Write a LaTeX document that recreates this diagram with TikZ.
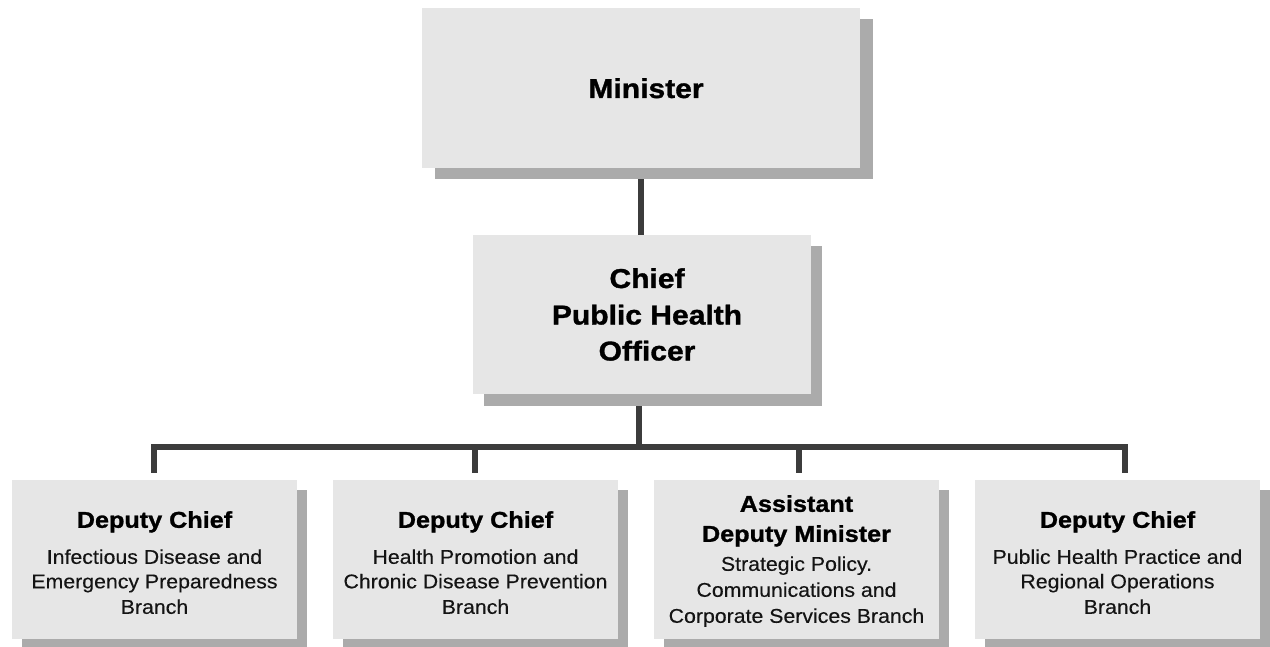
\documentclass[tikz,border=0pt]{standalone}
\usepackage{fontspec}
\setmainfont{Liberation Sans}
\newfontfamily\headfont[FakeStretch=1.1,FakeBold=1.2]{Liberation Sans}
\newfontfamily\bodyfont[FakeStretch=1.07,FakeBold=0.3]{Liberation Sans}
\usetikzlibrary{shadows}
\definecolor{boxfill}{HTML}{E6E6E6}
\definecolor{shadefill}{HTML}{ABABAB}
\definecolor{linkcol}{HTML}{3C3C3C}
\pgfdeclarelayer{bg}
\pgfsetlayers{bg,main}

\begin{document}
\begin{tikzpicture}[x=1pt,y=-1pt,
  orgbox/.style={fill=boxfill, inner sep=0pt, minimum height=159pt},
  bigshadow/.style={drop shadow={shadow xshift=13pt, shadow yshift=-11pt, fill=shadefill, opacity=1}},
  midshadow/.style={drop shadow={shadow xshift=11pt, shadow yshift=-11.5pt, fill=shadefill, opacity=1}},
  smallshadow/.style={drop shadow={shadow xshift=10pt, shadow yshift=-10pt, fill=shadefill, opacity=1}},
  unitbox/.style={orgbox, smallshadow, minimum width=285pt},
  link/.style={draw=linkcol, line width=5.5pt, line join=miter},
  toptitle/.style={anchor=base, inner sep=0pt, font=\headfont\bfseries\fontsize{27.3}{30}\selectfont},
  hd/.style={anchor=base, inner sep=0pt, font=\headfont\bfseries\fontsize{22.9}{26}\selectfont},
  bd/.style={anchor=base, inner sep=0pt, font=\bodyfont\fontsize{19.9}{24}\selectfont, text=black!92}]

\useasboundingbox (0,0) rectangle (1270,647);

% executive boxes
\node[orgbox, bigshadow, minimum width=438pt, minimum height=160pt] (min) at (641,88) {};
\node[orgbox, midshadow, minimum width=338pt] (cpho) at (642,314.5) {};

\node[toptitle] (mint) at ([xshift=5pt,yshift=-10pt]min.center) {Minister};
\node[toptitle] (cpho1) at ([xshift=5pt]cpho.north |- 0,288) {Chief};
\node[toptitle] (cpho2) at ([xshift=5pt]cpho.north |- 0,324.5) {Public Health};
\node[toptitle] (cpho3) at ([xshift=5pt]cpho.north |- 0,360.5) {Officer};

% branch boxes
\node[unitbox] (b1) at (154.5,559.5) {};
\node[unitbox] (b2) at (475.5,559.5) {};
\node[unitbox] (b3) at (796.5,559.5) {};
\node[unitbox] (b4) at (1117.5,559.5) {};

\node[hd] (b1h) at ([yshift=-48pt]b1.north) {Deputy Chief};
\node[bd] (b1a) at ([yshift=-84pt]b1.north) {Infectious Disease and};
\node[bd] (b1b) at ([yshift=-108.5pt]b1.north) {Emergency Preparedness};
\node[bd] (b1c) at ([yshift=-134pt]b1.north) {Branch};

\node[hd] (b2h) at ([yshift=-48pt]b2.north) {Deputy Chief};
\node[bd] (b2a) at ([yshift=-84pt]b2.north) {Health Promotion and};
\node[bd] (b2b) at ([yshift=-108.5pt]b2.north) {Chronic Disease Prevention};
\node[bd] (b2c) at ([yshift=-134pt]b2.north) {Branch};

\node[hd] (b3h) at ([yshift=-32pt]b3.north) {Assistant};
\node[hd] (b3i) at ([yshift=-62pt]b3.north) {Deputy Minister};
\node[bd] (b3a) at ([yshift=-91pt]b3.north) {Strategic Policy.};
\node[bd] (b3b) at ([yshift=-117pt]b3.north) {Communications and};
\node[bd] (b3c) at ([yshift=-143pt]b3.north) {Corporate Services Branch};

\node[hd] (b4h) at ([yshift=-48pt]b4.north) {Deputy Chief};
\node[bd] (b4a) at ([yshift=-84pt]b4.north) {Public Health Practice and};
\node[bd] (b4b) at ([yshift=-108.5pt]b4.north) {Regional Operations};
\node[bd] (b4c) at ([yshift=-134pt]b4.north) {Branch};

% reporting lines
\coordinate (bus) at (0,447);
\begin{pgfonlayer}{bg}
  \draw[link] (min.south) -- (min.south |- cpho.north);
  \draw[link] ([xshift=-3pt]cpho.south) -- ([xshift=-3pt]cpho.south |- bus);
  \draw[link, shorten <=7pt, shorten >=7pt]
    ([xshift=-0.5pt]b1.north) |- ([xshift=7.5pt]b4.north |- bus) -- ([xshift=7.5pt]b4.north);
  \draw[link, shorten >=7pt] ([xshift=-0.5pt]b2.north |- bus) -- ([xshift=-0.5pt]b2.north);
  \draw[link, shorten >=7pt] ([xshift=2.5pt]b3.north |- bus) -- ([xshift=2.5pt]b3.north);
\end{pgfonlayer}
\end{tikzpicture}
\end{document}
